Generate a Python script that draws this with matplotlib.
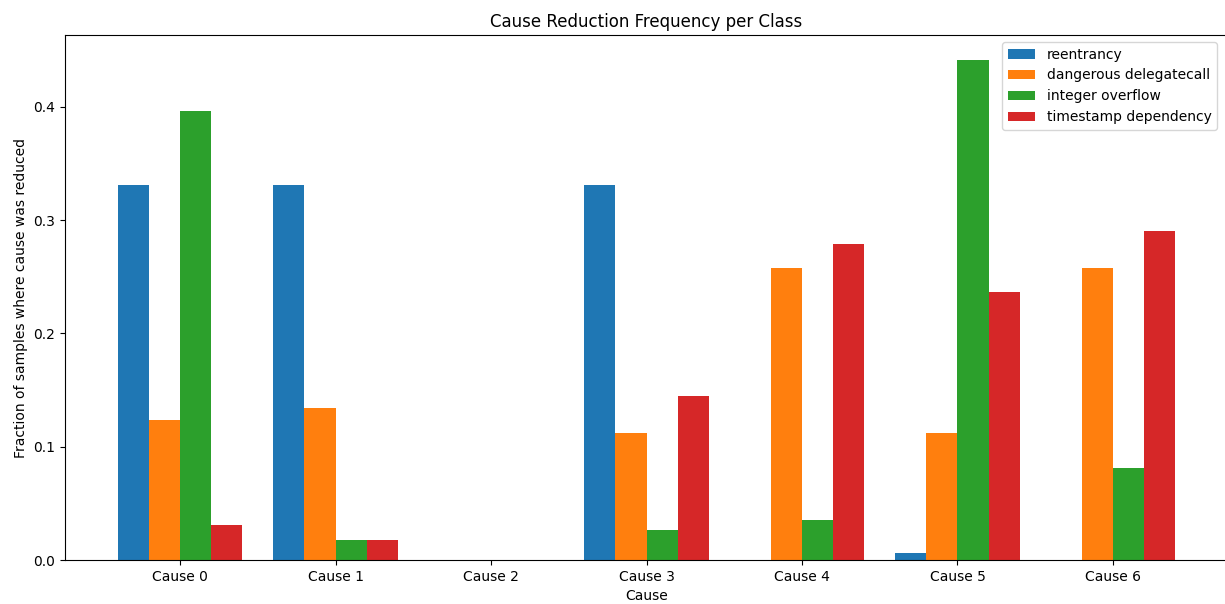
import numpy as np
import matplotlib.pyplot as plt

# fraction of samples where each cause was reduced, per vulnerability class
causes = ['Cause 0', 'Cause 1', 'Cause 2', 'Cause 3', 'Cause 4', 'Cause 5', 'Cause 6']
classes = ['reentrancy', 'dangerous delegatecall', 'integer overflow', 'timestamp dependency']

reentrancy = [0.331, 0.331, 0.0, 0.331, 0.0, 0.0062, 0.0]
delegatecall = [0.1236, 0.134, 0.0, 0.112, 0.258, 0.112, 0.258]
overflow = [0.3965, 0.0177, 0.0, 0.0265, 0.0353, 0.4415, 0.0812]
timestamp = [0.0309, 0.0177, 0.0, 0.1448, 0.279, 0.2367, 0.2905]

fig = plt.figure(figsize=(12.25, 6.04), dpi=100)
ax = fig.add_axes([65 / 1225, 1 - 560 / 604, 1163 / 1225, 525 / 604])

x = np.arange(len(causes))
width = 0.2
series = [reentrancy, delegatecall, overflow, timestamp]
for i, (name, vals) in enumerate(zip(classes, series)):
    ax.bar(x + (i - 1.5) * width, vals, width, label=name)

ax.set_xticks(x)
ax.set_xticklabels(causes)
ax.set_xlabel('Cause')
ax.set_ylabel('Fraction of samples where cause was reduced')
ax.set_title('Cause Reduction Frequency per Class')
ax.legend(loc='upper right', bbox_to_anchor=(0.9965, 1.0))

fig.savefig('out.png', dpi=100)
